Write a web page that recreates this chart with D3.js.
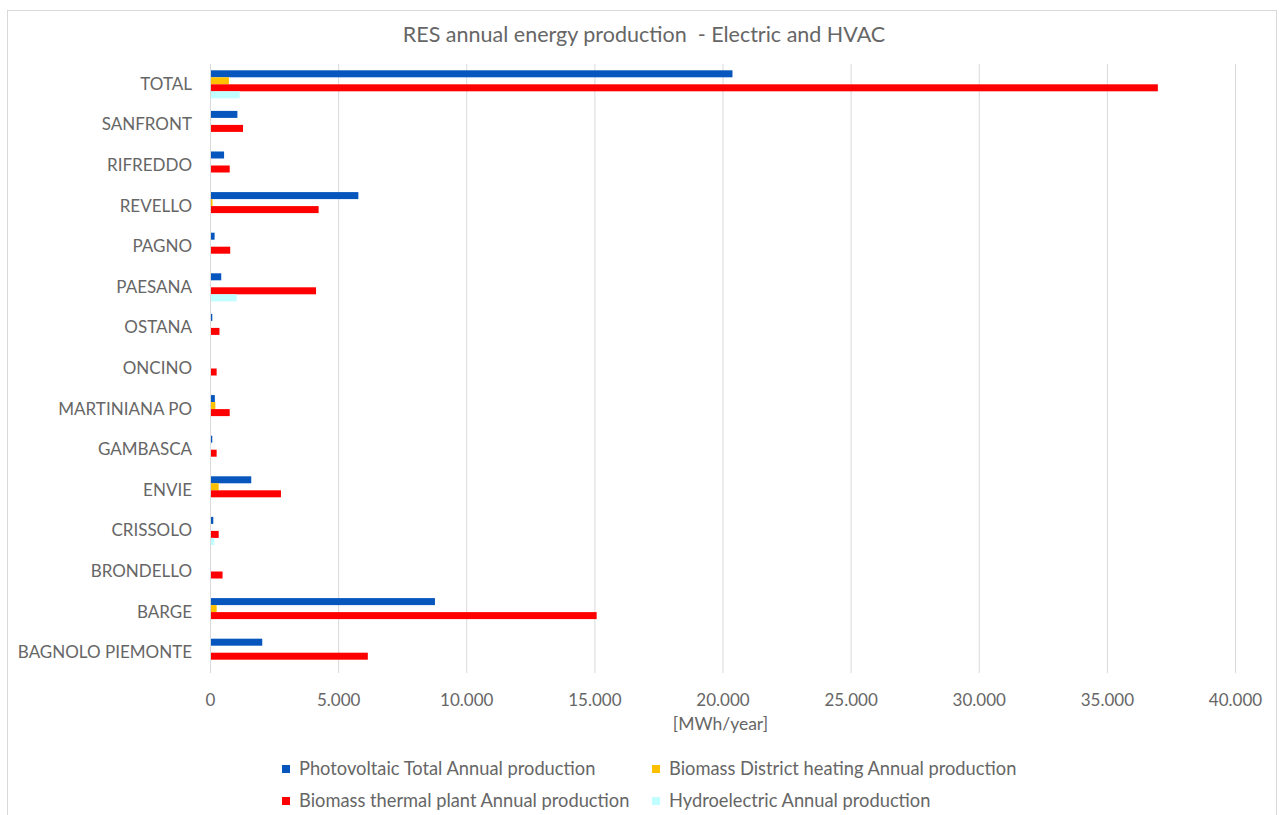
<!DOCTYPE html>
<html><head><meta charset="utf-8">
<script src="https://cdn.jsdelivr.net/npm/d3@7"></script>
<style>
body{margin:0;background:#fff;}
text{font-family:Lato, "Open Sans", sans-serif;fill:#666;}
</style></head>
<body><svg id="c" width="1279" height="815"></svg>
<script>
const categories = ["TOTAL","SANFRONT","RIFREDDO","REVELLO","PAGNO","PAESANA","OSTANA","ONCINO","MARTINIANA PO","GAMBASCA","ENVIE","CRISSOLO","BRONDELLO","BARGE","BAGNOLO PIEMONTE"];
const seriesNames = ["Photovoltaic Total Annual production","Biomass District heating Annual production","Biomass thermal plant Annual production","Hydroelectric Annual production"];
const pvValues = [20350,1030,510,5750,140,400,50,0,150,50,1570,90,0,8740,2000];
const biomassDHValues = [700,0,0,60,0,0,0,0,170,0,300,0,0,220,0];
const biomassThermalValues = [36950,1250,730,4200,750,4100,330,220,730,220,2730,300,450,15050,6120];
const hydroValues = [1120,0,0,0,0,1000,0,0,0,0,0,130,0,0,0];
const xTicks = [0,5000,10000,15000,20000,25000,30000,35000,40000];
const colors = ["#0656BE","#FFC000","#FF0000","#BFFFFF"];
const allSeries = [pvValues,biomassDHValues,biomassThermalValues,hydroValues];

const svg = d3.select("#c");
svg.append("rect").attr("x",7.5).attr("y",10.5).attr("width",1269).attr("height",820)
  .attr("fill","#fff").attr("stroke","#d9d9d9");

const pLeft=210, pRight=1235, pTop=64, pBottom=673;
const x = d3.scaleLinear().domain([0,40000]).range([pLeft,pRight]);
const y = d3.scaleBand().domain(categories).range([pTop,pBottom]).paddingInner(0.31).paddingOuter(0.155);
const ys = d3.scaleBand().domain(d3.range(4)).range([0,y.bandwidth()]);
const loc = d3.formatLocale({decimal:",",thousands:".",grouping:[3],currency:["",""]});
const fmt = loc.format(",d");

// gridlines
svg.append("g").selectAll("line").data(xTicks).join("line")
  .attr("x1",d=>x(d)+0.5).attr("x2",d=>x(d)+0.5).attr("y1",pTop).attr("y2",pBottom)
  .attr("stroke","#d9d9d9").attr("stroke-width",1);

// bars
allSeries.forEach((vals,si)=>{
  svg.append("g").selectAll("rect").data(vals).join("rect")
    .attr("x",x(0)+1).attr("y",(d,i)=>y(categories[i])+ys(si))
    .attr("width",d=>Math.max(0,x(d)-x(0))).attr("height",ys.bandwidth())
    .attr("fill",colors[si]);
});

// x axis tick labels
const xa = svg.append("g").attr("transform",`translate(0,${pBottom})`)
  .call(d3.axisBottom(x).tickValues(xTicks).tickFormat(fmt).tickSize(0).tickPadding(21));
xa.select(".domain").remove();
xa.selectAll("text").style("font-size","17px").attr("fill","#666").style("font-family","Lato, sans-serif");

// y axis labels
const ya = svg.append("g").attr("transform",`translate(${pLeft},0)`)
  .call(d3.axisLeft(y).tickSize(0).tickPadding(18));
ya.select(".domain").remove();
ya.selectAll("text").style("font-size","17px").attr("fill","#666").style("font-family","Lato, sans-serif");

// title
svg.append("text").attr("x",644).attr("y",42).attr("text-anchor","middle")
  .style("font-size","21.5px").attr("fill","#666").style("white-space","pre")
  .text("RES annual energy production  - Electric and HVAC");
// axis title
svg.append("text").attr("x",x(20000)-2).attr("y",730).attr("text-anchor","middle")
  .style("font-size","17.5px").attr("fill","#666").text("[MWh/year]");

// legend
const legPos = [[282,769],[652,769],[282,801],[652,801]];
seriesNames.forEach((n,i)=>{
  const g = svg.append("g").attr("transform",`translate(${legPos[i][0]},${legPos[i][1]})`);
  g.append("rect").attr("x",0).attr("y",-4).attr("width",8).attr("height",8).attr("fill",colors[i]);
  g.append("text").attr("x",17).attr("y",0).attr("dy","0.35em").style("font-size","18.3px").attr("fill","#666").text(n);
});
</script></body></html>
